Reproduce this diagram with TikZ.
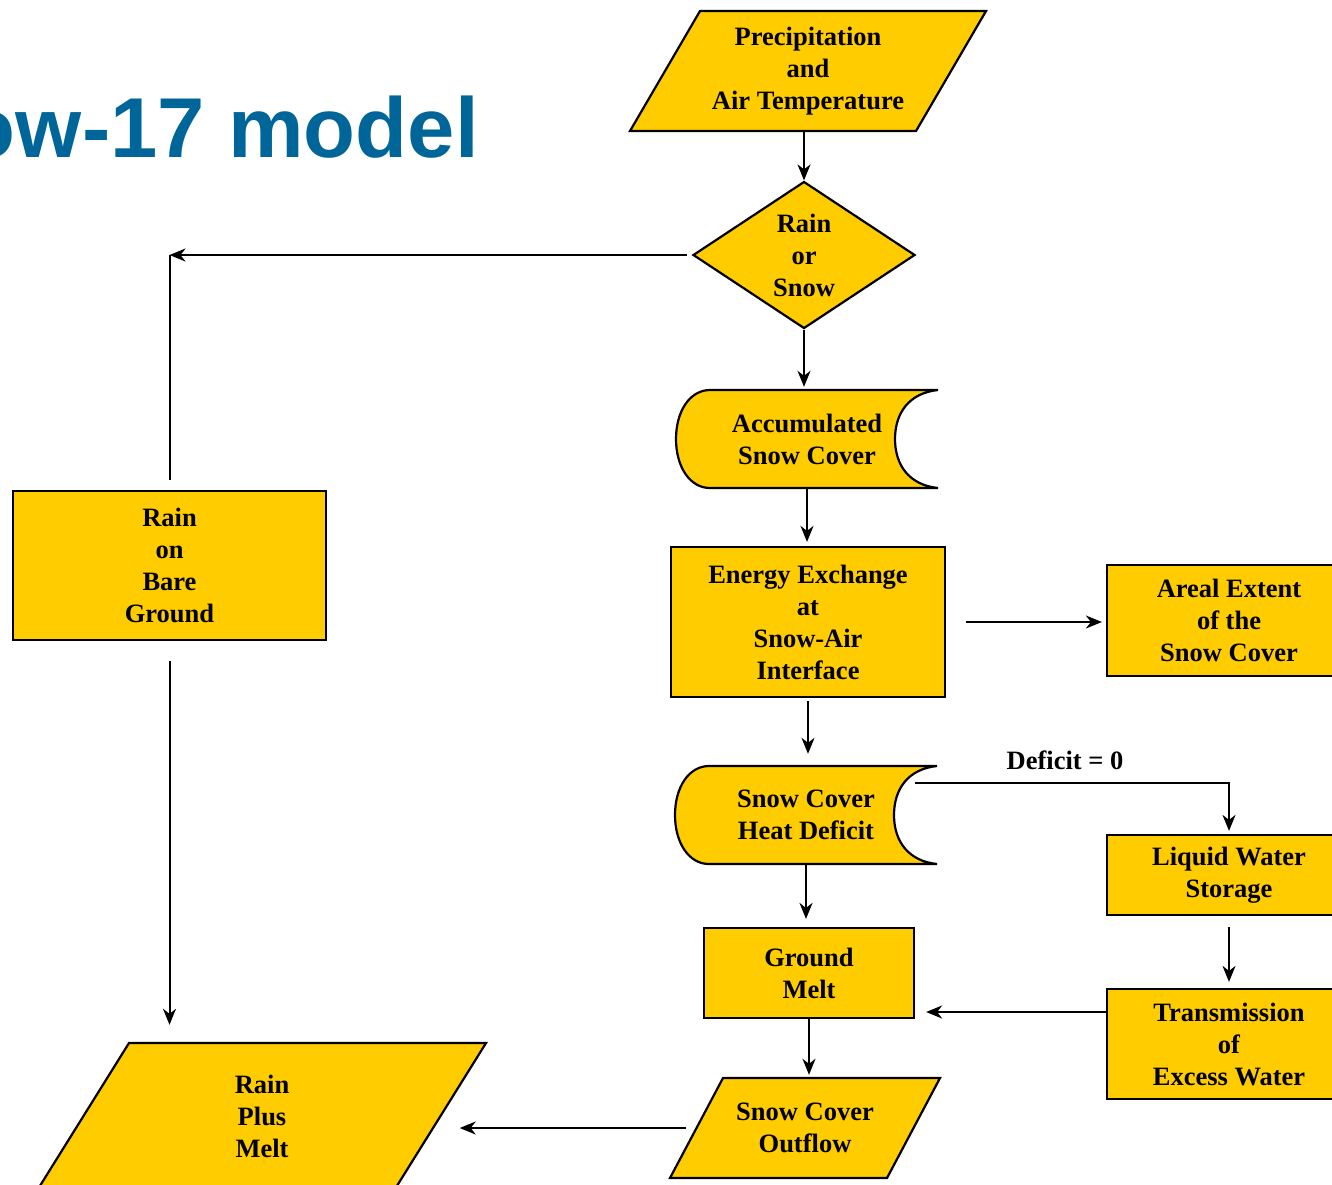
\documentclass[tikz,border=0pt]{standalone}
\usepackage{fontspec}
\setmainfont{Liberation Serif}
\newfontfamily\titlefont{Liberation Sans}
\usepackage{tikz}
\usetikzlibrary{
  positioning,
  shapes.geometric,
  arrows.meta
}
\definecolor{snowgold}{HTML}{FFCC00}
\definecolor{titleblue}{HTML}{006699}

\tikzset{
  boxline/.style={draw=black, line width=2.2bp, fill=snowgold},
  boxtext/.style={align=center, inner sep=0pt, text=black,
    font=\fontsize{26.5bp}{32bp}\selectfont\bfseries},
  procbox/.style 2 args={rectangle, boxline, boxtext,
    minimum width=#1, minimum height=#2},
  decision/.style={diamond, boxline, boxtext,
    minimum width=222bp, minimum height=147bp},
  flow/.style={line width=2bp, -{Stealth[length=16bp, width=13bp, inset=5bp]}},
  plainline/.style={line width=2bp}
}

% stored data shape, outline first and the named text node on top
\newcommand{\storenode}[3]{%
  \path[boxline, shift={#2}]
    (131,-49) -- (-97,-49)
    .. controls (-117,-49) and (-131,-28) .. (-131,0)
    .. controls (-131,28) and (-117,49) .. (-97,49)
    -- (131,49)
    .. controls (102,46) and (88,26) .. (88,0)
    .. controls (88,-26) and (102,-46) .. (131,-49) -- cycle;
  \node[boxtext, minimum width=262bp, minimum height=98bp] (#1) at #2 {#3};
}

% input/output parallelogram: name, centre, full width, height, slant, text
\newcommand{\ionode}[6]{%
  \path[boxline, shift={#2}]
    ({-#3/2+#5},{-#4/2}) -- ({#3/2},{-#4/2})
    -- ({#3/2-#5},{#4/2}) -- ({-#3/2},{#4/2}) -- cycle;
  \node[boxtext, minimum width={(#3-#5)*1bp}, minimum height={#4*1bp}] (#1) at #2 {#6};
}

\begin{document}
\begin{tikzpicture}[x=1bp, y=-1bp]

	\useasboundingbox (0,0) rectangle (1332,1184);
	\clip (0,0) rectangle (1332,1184);

	\node[anchor=base east, inner sep=0pt, text=titleblue,
	  font=\titlefont\bfseries\fontsize{85bp}{90bp}\selectfont] (title) at (479,157) {ow-17 model};

	% middle column
	\ionode{precip}{(808,71)}{356}{120}{70}{Precipitation\\and\\Air Temperature}
	\node[decision] (rain) at (804,255) {Rain\\or\\Snow};
	\storenode{accum}{(807,439)}{Accumulated\\Snow Cover}
	\node[procbox={274bp}{150bp}] (energy) at (808,622) {Energy Exchange\\at\\Snow-Air\\Interface};
	\storenode{deficit}{(806,815)}{Snow Cover\\Heat Deficit}
	\node[procbox={210bp}{90bp}] (ground) at (809,973) {Ground\\Melt};
	\ionode{outflow}{(805,1128)}{270}{100}{53}{Snow Cover\\Outflow}

	% right column
	\node[procbox={244bp}{111bp}] (areal) at (1229,620.5) {Areal Extent\\of the\\Snow Cover};
	\node[procbox={244bp}{80bp}] (liquid) at (1229,875) {Liquid Water\\Storage};
	\node[procbox={244bp}{110bp}] (trans) at (1229,1044) {Transmission\\of\\Excess Water};

	% left column
	\node[procbox={313bp}{149bp}] (bare) at (169.5,565.5) {Rain\\on\\Bare\\Ground};
	\ionode{plusmelt}{(262,1116)}{448}{146}{91}{Rain\\Plus\\Melt}

	% connectors
	\draw[flow] (rain.north |- precip.south) -- (rain.north);
	\draw[flow, shorten >=3bp] (rain.south) -- (rain.south |- accum.north);
	\draw[flow, shorten <=5bp] (rain.west) -- (rain.west -| bare.north) coordinate (bend);
	\draw[plainline, shorten >=10bp] (bend) -- (bare.north);
	\draw[flow, shorten <=20bp, shorten >=18bp] (bare.south) -- (bare.south |- plusmelt.north);
	\draw[flow, shorten >=4bp] (accum.south) -- (accum.south |- energy.north);
	\draw[flow, shorten <=20bp, shorten >=4bp] (energy.east) -- (energy.east -| areal.west);
	\draw[flow, shorten <=3bp, shorten >=12bp] (energy.south) -- (energy.south |- deficit.north);
	\draw[flow, shorten >=3bp] ([shift={(-22,-32)}]deficit.east) -| (liquid.north);
	\node[boxtext] (deflabel) at (1065,760) {Deficit = 0};
	\draw[flow, shorten >=8bp] (deficit.south) -- (deficit.south |- ground.north);
	\draw[flow, shorten <=11bp, shorten >=6bp] (liquid.south) -- (trans.north);
	\draw[flow, shorten >=11bp] ([shift={(0,-32)}]trans.west) -- ([shift={(0,-32)}]trans.west -| ground.east);
	\draw[flow, shorten >=3bp] (ground.south) -- (ground.south |- outflow.north);
	\draw[flow, shorten <=10bp, shorten >=19bp] (outflow.west) -- (outflow.west -| plusmelt.east);

\end{tikzpicture}
\end{document}
